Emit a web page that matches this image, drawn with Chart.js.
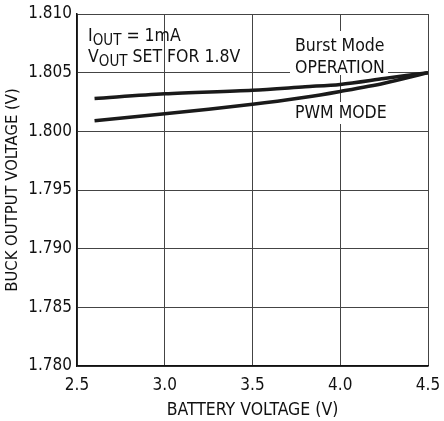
<!DOCTYPE html>
<html>
<head>
<meta charset="utf-8">
<script src="https://cdn.jsdelivr.net/npm/chart.js@4.4.0/dist/chart.umd.min.js"></script>
<style>
  html, body { margin: 0; padding: 0; background: #fff; }
  #wrap { width: 444px; height: 421px; }
</style>
</head>
<body>
<div id="wrap"><canvas id="myChart" width="444" height="421"></canvas></div>
<script>
// values
const battV = [2.6, 3.0, 3.5, 3.8, 4.0, 4.25, 4.5];
const burstMode = [1.8028, 1.8032, 1.8035, 1.8038, 1.8040, 1.8045, 1.8050];
const pwmMode = [1.8009, 1.8015, 1.8023, 1.8029, 1.8034, 1.8041, 1.8050];
const xTicks = [2.5, 3.0, 3.5, 4.0, 4.5];
const yTicks = [1.780, 1.785, 1.790, 1.795, 1.800, 1.805, 1.810];

const FONT = "'Liberation Sans Narrow', 'DejaVu Sans Condensed', sans-serif";

function toPts(xs, ys) {
  return xs.map((x, i) => ({ x: x, y: ys[i] }));
}

// text with a subscript, e.g. I + OUT
function subText(ctx, main, sub, rest, x, y, size) {
  ctx.font = size + 'px ' + FONT;
  ctx.fillText(main, x, y);
  let w = ctx.measureText(main).width;
  ctx.font = (size - 2.5) + 'px ' + FONT;
  ctx.fillText(sub, x + w, y + 4);
  w += ctx.measureText(sub).width;
  ctx.font = size + 'px ' + FONT;
  ctx.fillText(rest, x + w, y);
}

const labelsPlugin = {
  id: 'labels',
  afterDatasetsDraw(chart) {
    const ctx = chart.ctx;
    ctx.save();
    ctx.textBaseline = 'alphabetic';
    ctx.textAlign = 'left';

    // white boxes behind the right-hand labels hide the grid
    ctx.fillStyle = '#fff';
    ctx.fillRect(290, 31, 98, 44);
    ctx.fillRect(290, 102, 98, 22);

    ctx.fillStyle = '#111';
    subText(ctx, 'I', 'OUT', ' = 1mA', 88, 41, 17.5);
    subText(ctx, 'V', 'OUT', ' SET FOR 1.8V', 88, 62, 17.5);

    ctx.font = '17.5px ' + FONT;
    ctx.fillText('Burst Mode', 295, 51);
    ctx.fillText('OPERATION', 295, 73);
    ctx.fillText('PWM MODE', 295, 118);
    ctx.restore();
  }
};

new Chart(document.getElementById('myChart'), {
  type: 'scatter',
  data: {
    datasets: [
      {
        label: 'Burst Mode OPERATION',
        data: toPts(battV, burstMode),
        showLine: true,
        borderColor: '#1a1a1a',
        borderWidth: 3.5,
        pointRadius: 0,
        tension: 0.3
      },
      {
        label: 'PWM MODE',
        data: toPts(battV, pwmMode),
        showLine: true,
        borderColor: '#1a1a1a',
        borderWidth: 3.5,
        pointRadius: 0,
        tension: 0.3
      }
    ]
  },
  options: {
    responsive: false,
    animation: false,
    layout: { padding: { top: 14, right: 16, left: 0, bottom: 0 } },
    plugins: { legend: { display: false }, tooltip: { enabled: false } },
    scales: {
      x: {
        type: 'linear',
        min: 2.5,
        max: 4.5,
        afterBuildTicks(s) { s.ticks = xTicks.map(v => ({ value: v })); },
        afterFit(s) { s.height = 55; s.paddingRight = 0; s.paddingLeft = 0; },
        ticks: {
          color: '#111',
          font: { family: FONT, size: 17 },
          padding: 9,
          callback: v => v.toFixed(1)
        },
        grid: { color: '#444', lineWidth: 1, drawTicks: false },
        border: { color: '#111', width: 1.5 },
        title: {
          display: true,
          text: 'BATTERY VOLTAGE (V)',
          color: '#111',
          font: { family: FONT, size: 17.5 },
          padding: { top: 4, bottom: 0 }
        }
      },
      y: {
        type: 'linear',
        min: 1.780,
        max: 1.810,
        afterBuildTicks(s) { s.ticks = yTicks.map(v => ({ value: v })); },
        afterFit(s) { s.width = 77; s.paddingTop = 0; s.paddingBottom = 0; },
        ticks: {
          color: '#111',
          font: { family: FONT, size: 17 },
          padding: 5,
          callback: v => v.toFixed(3)
        },
        grid: { color: '#444', lineWidth: 1, drawTicks: false },
        border: { color: '#111', width: 1.5 },
        title: {
          display: true,
          text: 'BUCK OUTPUT VOLTAGE (V)',
          color: '#111',
          font: { family: FONT, size: 16.5 },
          padding: { top: 3, bottom: 0 }
        }
      }
    }
  },
  plugins: [labelsPlugin]
});
</script>
</body>
</html>
